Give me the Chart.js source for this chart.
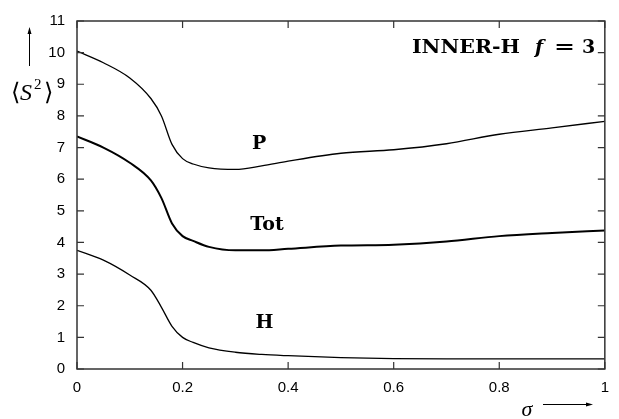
<!DOCTYPE html>
<html>
<head>
<meta charset="utf-8">
<script src="https://cdn.jsdelivr.net/npm/chart.js@4"></script>
<style>
  html, body { margin: 0; padding: 0; background: #fff; }
  #wrap { width: 619px; height: 419px; }
</style>
</head>
<body>
<div id="wrap"><canvas id="grafico" width="619" height="419"></canvas></div>
<script>
// Valores de sigma (eixo x)
const sigma = [0, 0.05, 0.1, 0.14, 0.16, 0.18, 0.2, 0.22, 0.25, 0.3, 0.35, 0.4, 0.5, 0.6, 0.7, 0.8, 0.9, 1.0];

// Curvas
const valoresP   = [10.05, 9.68, 9.2, 8.55, 8.0, 7.1, 6.65, 6.48, 6.36, 6.31, 6.42, 6.57, 6.82, 6.93, 7.12, 7.42, 7.62, 7.83];
const valoresTot = [7.35, 7.0, 6.52, 5.96, 5.4, 4.6, 4.2, 4.05, 3.86, 3.75, 3.75, 3.8, 3.9, 3.93, 4.03, 4.2, 4.3, 4.38];
const valoresH   = [3.75, 3.44, 2.97, 2.49, 1.95, 1.35, 1.0, 0.84, 0.67, 0.53, 0.46, 0.42, 0.36, 0.33, 0.32, 0.32, 0.32, 0.32];

// Rótulos das curvas (posição em coordenadas de dados)
const rotulos = [
    { texto: 'P', x: 0.345, y: 7.1 },
    { texto: 'Tot', x: 0.36, y: 4.55 },
    { texto: 'H', x: 0.355, y: 1.45 }
];

const ticksX = [0, 0.2, 0.4, 0.6, 0.8, 1];
const ticksY = [0, 1, 2, 3, 4, 5, 6, 7, 8, 9, 10, 11];

const serifBold = '"DejaVu Serif", "Liberation Serif", serif';

function pontos(valores) {
    return sigma.map((s, i) => ({ x: s, y: valores[i] }));
}

// escreve texto esticado/encolhido para caber numa largura
function textoLargura(ctx, texto, x, y, largura) {
    const w = ctx.measureText(texto).width;
    ctx.save();
    ctx.translate(x, y);
    ctx.scale(largura / w, 1);
    ctx.fillText(texto, 0, 0);
    ctx.restore();
}

// Moldura, marcas internas e textos
const molduraPlugin = {
    id: 'moldura',
    afterDraw(chart) {
        const ctx = chart.ctx;
        const a = chart.chartArea;
        const sx = chart.scales.x, sy = chart.scales.y;
        ctx.save();
        ctx.strokeStyle = '#333';
        ctx.lineWidth = 1.5;
        ctx.strokeRect(a.left, a.top, a.right - a.left, a.bottom - a.top);

        ctx.lineWidth = 1.2;
        ctx.beginPath();
        ticksX.forEach(v => {
            const px = sx.getPixelForValue(v);
            ctx.moveTo(px, a.bottom); ctx.lineTo(px, a.bottom - 7);
            ctx.moveTo(px, a.top); ctx.lineTo(px, a.top + 7);
        });
        ticksY.forEach(v => {
            const py = sy.getPixelForValue(v);
            ctx.moveTo(a.left, py); ctx.lineTo(a.left + 7, py);
            ctx.moveTo(a.right, py); ctx.lineTo(a.right - 7, py);
        });
        ctx.stroke();

        // rótulos das curvas
        ctx.fillStyle = '#000';
        ctx.font = 'bold 19px ' + serifBold;
        ctx.textAlign = 'center';
        ctx.textBaseline = 'middle';
        rotulos.forEach(r => {
            ctx.fillText(r.texto, sx.getPixelForValue(r.x), sy.getPixelForValue(r.y));
        });

        // título interno
        ctx.textAlign = 'left';
        ctx.textBaseline = 'alphabetic';
        const ty = 53;
        ctx.font = 'bold 19px ' + serifBold;
        textoLargura(ctx, 'INNER-H', 412, ty, 108);
        ctx.font = 'bold italic 19px ' + serifBold;
        ctx.fillText('f', 535, ty);
        ctx.font = 'bold 19px ' + serifBold;
        textoLargura(ctx, '=', 554, ty, 21);
        ctx.fillText('3', 582, ty);

        // rótulo do eixo y
        ctx.textBaseline = 'middle';
        ctx.font = '24px "Liberation Serif", serif';
        ctx.fillText('\u27E8', 11, 94);
        ctx.font = 'italic 24px "Liberation Serif", serif';
        ctx.fillText('S', 20, 94);
        ctx.font = '15px "Liberation Serif", serif';
        ctx.fillText('2', 34, 85);
        ctx.font = '24px "Liberation Serif", serif';
        ctx.fillText('\u27E9', 44, 94);

        // setas
        ctx.strokeStyle = '#000';
        ctx.lineWidth = 1;
        ctx.beginPath();
        ctx.moveTo(29.5, 66); ctx.lineTo(29.5, 30);
        ctx.moveTo(543, 404.5); ctx.lineTo(590, 404.5);
        ctx.stroke();
        ctx.beginPath();
        ctx.moveTo(29.5, 27); ctx.lineTo(27.5, 34); ctx.lineTo(31.5, 34); ctx.closePath();
        ctx.moveTo(593, 404.5); ctx.lineTo(586, 402.5); ctx.lineTo(586, 406.5); ctx.closePath();
        ctx.fill();

        // rótulo do eixo x
        ctx.font = 'italic 22px "Liberation Serif", serif';
        ctx.textAlign = 'center';
        ctx.fillText('\u03C3', 527, 410);
        ctx.restore();
    }
};

const estiloLinha = (cor, largura) => ({
    borderColor: cor,
    borderWidth: largura,
    pointRadius: 0,
    cubicInterpolationMode: 'monotone',
    fill: false
});

new Chart(document.getElementById('grafico').getContext('2d'), {
    type: 'line',
    data: {
        datasets: [
            { label: 'P', data: pontos(valoresP), ...estiloLinha('#000', 1.3) },
            { label: 'Tot', data: pontos(valoresTot), ...estiloLinha('#000', 2) },
            { label: 'H', data: pontos(valoresH), ...estiloLinha('#000', 1.3) }
        ]
    },
    options: {
        responsive: false,
        animation: false,
        layout: { padding: { left: 0, right: 6, top: 20, bottom: 0 } },
        plugins: {
            legend: { display: false },
            tooltip: { enabled: false }
        },
        scales: {
            x: {
                type: 'linear',
                min: 0,
                max: 1,
                afterFit: s => { s.height = 50; },
                afterBuildTicks: s => { s.ticks = ticksX.map(v => ({ value: v })); },
                grid: { display: false, drawTicks: false },
                border: { display: false },
                ticks: {
                    padding: 10,
                    color: '#000',
                    font: { family: '"Liberation Sans", Arial, sans-serif', size: 15 },
                    callback: v => String(v)
                }
            },
            y: {
                min: 0,
                max: 11,
                afterFit: s => { s.width = 77; },
                afterBuildTicks: s => { s.ticks = ticksY.map(v => ({ value: v })); },
                grid: { display: false, drawTicks: false },
                border: { display: false },
                ticks: {
                    padding: 12,
                    color: '#000',
                    font: { family: '"Liberation Sans", Arial, sans-serif', size: 15 }
                }
            }
        }
    },
    plugins: [molduraPlugin]
});
</script>
</body>
</html>
